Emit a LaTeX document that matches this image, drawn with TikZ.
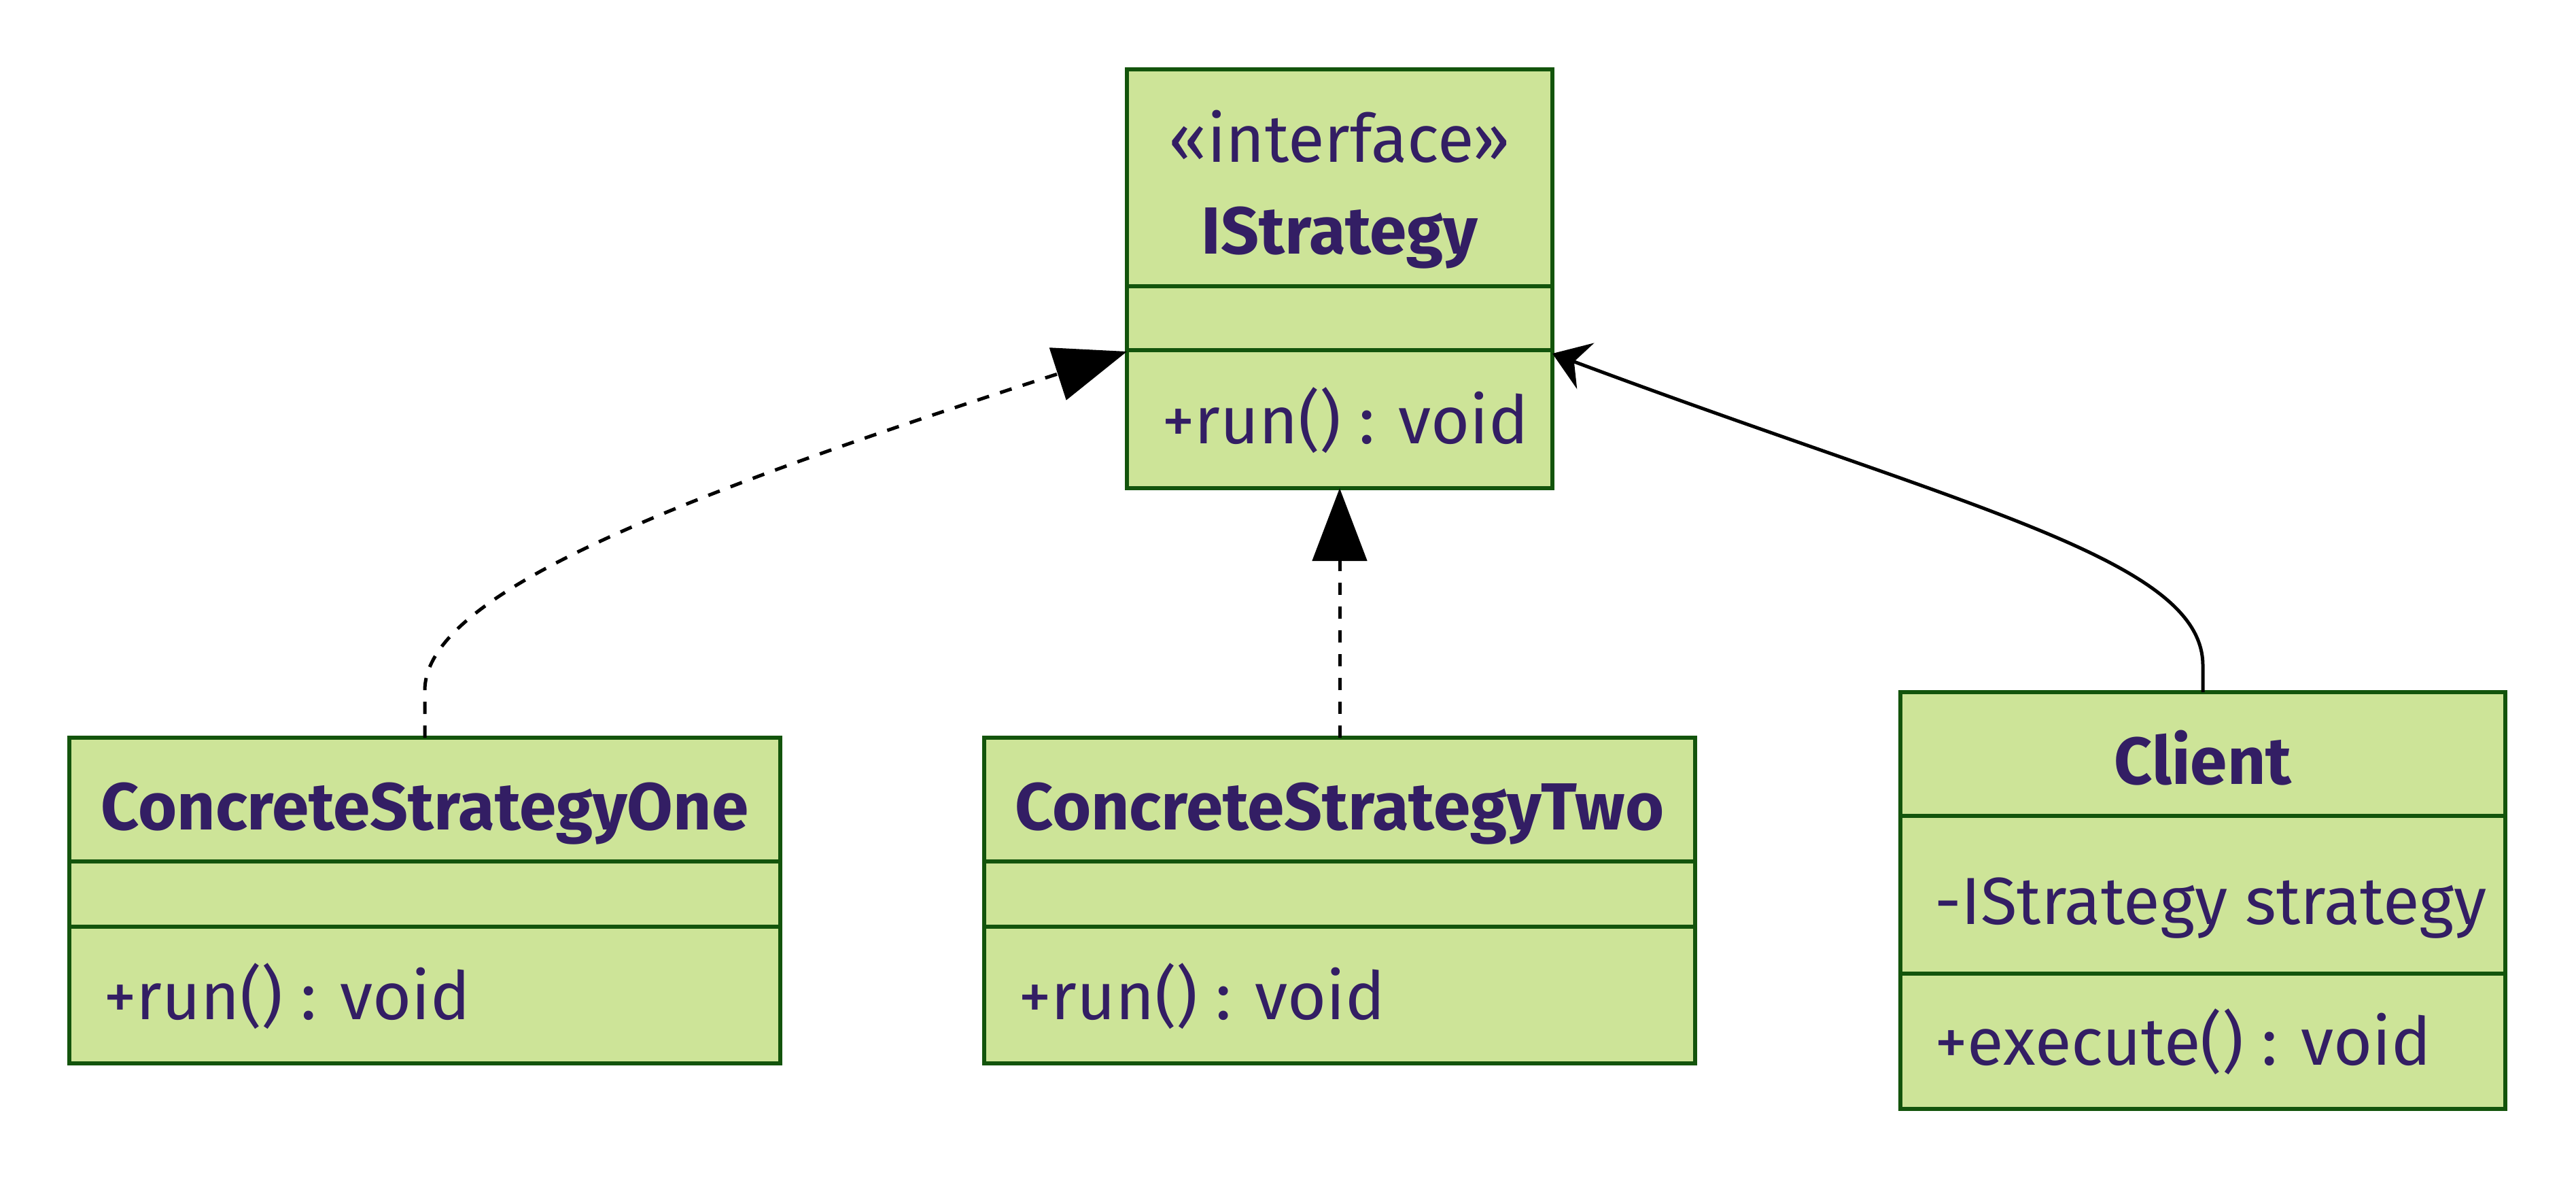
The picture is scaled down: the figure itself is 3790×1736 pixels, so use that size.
\documentclass[tikz,border=0pt]{standalone}
\usepackage{fontspec}
\setmainfont{Fira Sans}
\usetikzlibrary{arrows.meta,calc}
\definecolor{boxfill}{HTML}{CDE498}
\definecolor{boxline}{HTML}{13540C}
\definecolor{txt}{HTML}{331E64}
\begin{document}
\begin{tikzpicture}[x=0.5pt,y=-0.5pt,
  classbox/.style={draw=boxline,fill=boxfill,line width=2.8pt,inner sep=0pt,outer sep=0pt,rectangle},
  sepline/.style={draw=boxline,line width=2.8pt},
  lbl/.style={text=txt,font=\fontsize{49}{58}\selectfont,inner sep=0pt,outer sep=0pt},
  ttl/.style={text=txt,font=\fontsize{49}{58}\selectfont\bfseries,inner sep=0pt,outer sep=0pt},
  realize/.style={draw=black,line width=2.5pt,dash pattern=on 9pt off 8.5pt,-{Triangle[length=53.5pt,width=40pt]}},
  assoc/.style={draw=black,line width=2.5pt,-{Stealth[length=26pt,width=36pt,inset=9pt]}}]
\useasboundingbox (0,0) rectangle (3790,1736);

% class boxes
\node[classbox,minimum width=313pt,minimum height=308pt] (is) at (1971,410) {};
\node[classbox,minimum width=523pt,minimum height=239.5pt] (csone) at (625,1324.5) {};
\node[classbox,minimum width=523pt,minimum height=239.5pt] (cstwo) at (1971,1324.5) {};
\node[classbox,minimum width=445pt,minimum height=306.5pt] (client) at (3241,1324.5) {};

% compartments
\draw[sepline] (is.west |- 0,421) -- (is.east |- 0,421);
\draw[sepline] (is.west |- 0,515) -- (is.east |- 0,515);
\draw[sepline] (csone.west |- 0,1267) -- (csone.east |- 0,1267);
\draw[sepline] (csone.west |- 0,1363) -- (csone.east |- 0,1363);
\draw[sepline] (cstwo.west |- 0,1267) -- (cstwo.east |- 0,1267);
\draw[sepline] (cstwo.west |- 0,1363) -- (cstwo.east |- 0,1363);
\draw[sepline] (client.west |- 0,1200) -- (client.east |- 0,1200);
\draw[sepline] (client.west |- 0,1432) -- (client.east |- 0,1432);

% texts
\node[lbl,anchor=base] (isst) at (1971,238) {«interface»};
\node[ttl,anchor=base] (isname) at (1971,373) {IStrategy};
\node[lbl,anchor=base west] (isrun) at (1709,652) {+run() : void};

\node[ttl,anchor=base] (csonename) at (625,1220) {ConcreteStrategyOne};
\node[lbl,anchor=base west] (csonerun) at (152,1499) {+run() : void};

\node[ttl,anchor=base] (cstwoname) at (1971,1220) {ConcreteStrategyTwo};
\node[lbl,anchor=base west] (cstworun) at (1498,1499) {+run() : void};

\node[ttl,anchor=base] (clientname) at (3241,1153) {Client};
\node[lbl,anchor=base west] (clientattr) at (2846,1359) {-IStrategy strategy};
\node[lbl,anchor=base west] (clientexec) at (2846,1566) {+execute() : void};

% connector end points on the interface box
\coordinate (isL) at (is.west |- 0,517);
\coordinate (isR) at (is.east |- 0,520);
\coordinate (csoneup) at ($(csone.north)+(0,-70)$);
\coordinate (clientup) at ($(client.north)+(0,-39)$);

% connectors
\draw[realize] (csone.north) -- (csoneup) .. controls (626,870) and (1015,725) .. (isL);
\draw[realize] (cstwo.north) -- (is.south);
\draw[assoc] (client.north) -- (clientup) .. controls (3241,822) and (2891,747) .. (isR);
\end{tikzpicture}
\end{document}
